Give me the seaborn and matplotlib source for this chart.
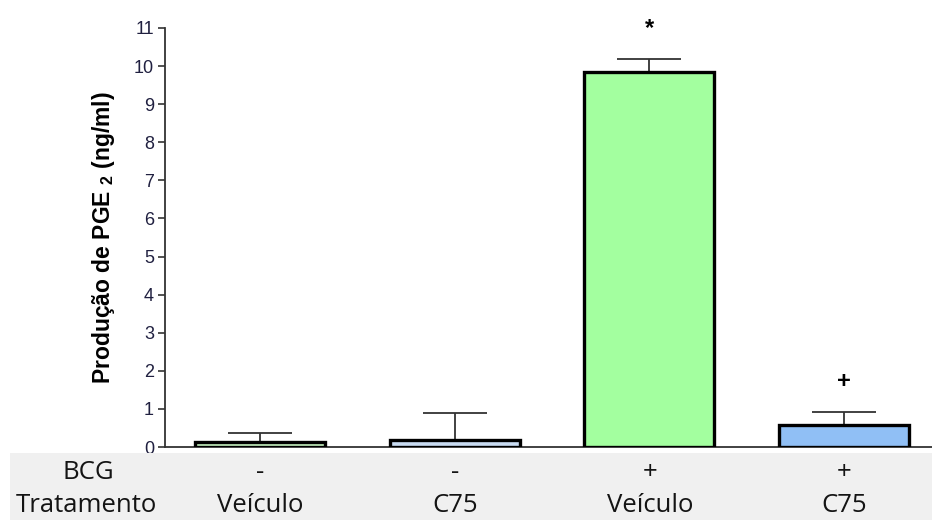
import matplotlib
matplotlib.use("Agg")
import matplotlib.pyplot as plt
import seaborn as sns
import pandas as pd
from matplotlib.patches import Rectangle

# Group definitions
groups = ["BCG- Veículo", "BCG- C75", "BCG+ Veículo", "BCG+ C75"]
bcg_row = ["-", "-", "+", "+"]
treatment_row = ["Veículo", "C75", "Veículo", "C75"]

# PGE2 production (ng/ml): mean and upper error
means = [0.14, 0.18, 9.85, 0.57]
errors = [0.22, 0.70, 0.33, 0.34]
marks = ["", "", "*", "+"]

colors = ["#c6f2c0", "#c9dcf2", "#a3ff9f", "#90bff5"]

df = pd.DataFrame({"group": groups, "pge2": means})

sns.set_theme(style="white")
plt.rcParams["font.family"] = ["Liberation Sans", "DejaVu Sans"]
plt.rcParams["mathtext.fontset"] = "custom"
plt.rcParams["mathtext.rm"] = "Liberation Sans:bold"
plt.rcParams["mathtext.it"] = "Liberation Sans:bold"
plt.rcParams["mathtext.bf"] = "Liberation Sans:bold"

W, H = 932, 520
fig = plt.figure(figsize=(W / 100, H / 100), dpi=100)
fig.patch.set_facecolor("white")

ax_left, ax_right = 165 / W, 1.0
ax_bottom, ax_top = 1 - 447 / H, 1 - 28 / H
ax = fig.add_axes([ax_left, ax_bottom, ax_right - ax_left, ax_top - ax_bottom])

sns.barplot(data=df, x="group", y="pge2", hue="group", palette=colors,
            saturation=1, legend=False, width=0.667, edgecolor="black",
            linewidth=2.4, errorbar=None, ax=ax, zorder=3)

xs = list(range(len(groups)))
ax.errorbar(xs, means, yerr=[[0] * len(errors), errors], fmt="none",
            ecolor="#333333", elinewidth=1.3, capsize=23, capthick=1.3, zorder=2)

for x, m, e, s in zip(xs, means, errors, marks):
    if s:
        ax.text(x, m + e + 0.5, s, ha="center", va="bottom",
                fontsize=17, fontweight="bold", color="black", clip_on=False)

ax.set_xlim(-0.487, 3.451)
ax.set_ylim(0, 11)
ax.set_yticks(range(0, 12))
ax.set_xticks([])
ax.set_xlabel("")
ax.set_ylabel("Produção de PGE $_{2}$ (ng/ml)", fontsize=16.5,
              fontweight="bold", color="black", labelpad=12,
              family="Liberation Sans")
ax.tick_params(axis="y", direction="out", length=5, width=1.2, color="#333333",
               labelsize=13, labelcolor="#202040", pad=3, left=True)
for lbl in ax.get_yticklabels():
    lbl.set_family("Liberation Sans")
for side in ["top", "right"]:
    ax.spines[side].set_visible(False)
for side in ["left", "bottom"]:
    ax.spines[side].set_color("#333333")
    ax.spines[side].set_linewidth(1.3)
ax.set_facecolor("white")

# Table band below the axis
band_top = (H - 453) / H
band_left = 10 / W
fig.patches.append(Rectangle((band_left, 0), 1 - band_left, band_top,
                             transform=fig.transFigure, facecolor="#f0f0f0",
                             edgecolor="none", zorder=0))

def fx(px):
    return px / W

def fy(py):
    return 1 - py / H

centers_px = [260, 455, 650, 844]
row_font = dict(fontsize=18.5, color="#141414", family=["Open Sans", "DejaVu Sans"])
fig.text(fx(88), fy(479), "BCG", ha="center", va="baseline", **row_font)
fig.text(fx(86), fy(512), "Tratamento", ha="center", va="baseline", **row_font)
for cx, b, t in zip(centers_px, bcg_row, treatment_row):
    fig.text(fx(cx), fy(479), b, ha="center", va="baseline", **row_font)
    fig.text(fx(cx), fy(512), t, ha="center", va="baseline", **row_font)

fig.savefig("out.png", dpi=100)
